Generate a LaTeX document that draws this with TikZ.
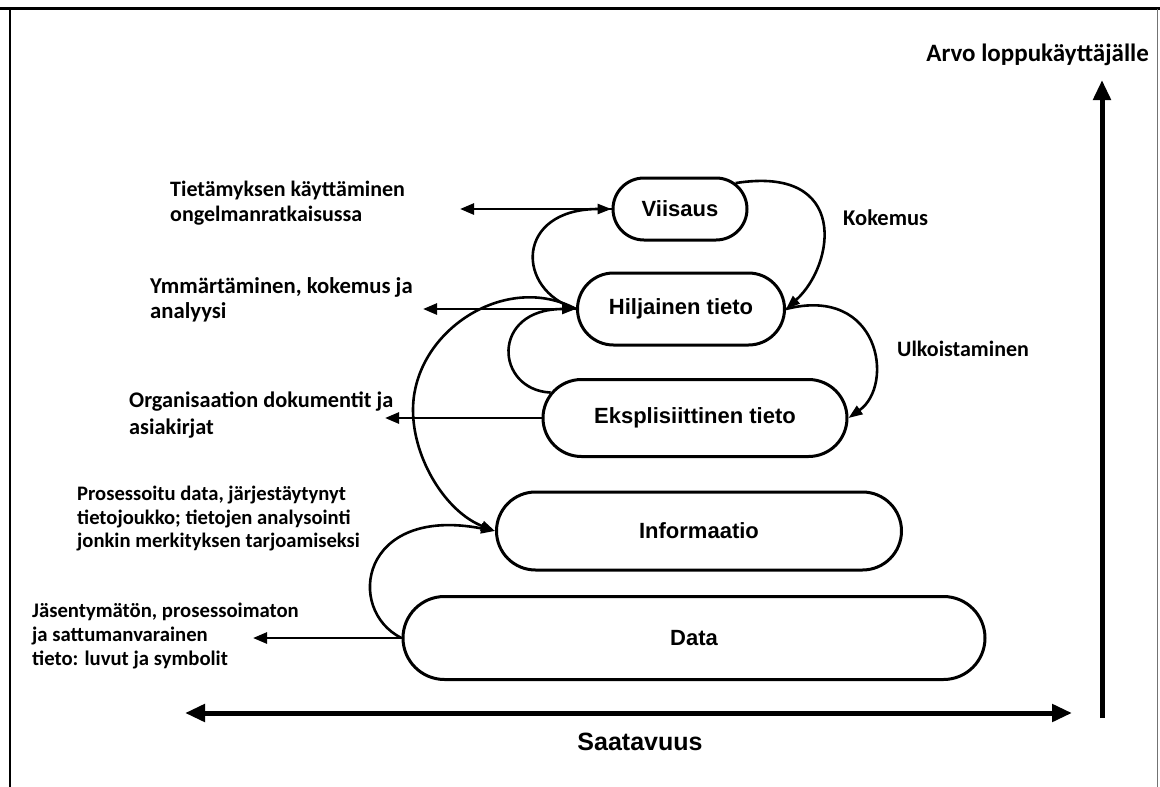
\documentclass[tikz,border=0pt]{standalone}
\usepackage{fontspec}
\setmainfont{Liberation Sans}
\newfontfamily\calib{Carlito}
\usetikzlibrary{arrows.meta,shapes.misc}
\begin{document}
\begin{tikzpicture}[x=1pt,y=-1pt,
  box/.style={rounded rectangle, draw, line width=3pt, inner sep=0pt, font=\bfseries\fontsize{22}{26}\selectfont},
  conn/.style={line width=2.6pt, -{Triangle[length=14pt,width=10pt]}},
  hline/.style={line width=2.6pt, -{Triangle[length=14pt,width=11pt]}},
  lbl/.style={align=left, anchor=west, inner sep=0pt},
  axis/.style={line width=5pt},
  axboth/.style={{Triangle[length=20pt,width=17pt]}-{Triangle[length=20pt,width=17pt]}},
  axup/.style={-{Triangle[length=20pt,width=17pt]}}
]
\useasboundingbox (0,0) rectangle (1160,787);
% frame
\draw[line width=3.5pt] (0,8.5) -- (1160,8.5);
\draw[line width=2.5pt] (10,8.5) -- (10,787);
\draw[line width=1pt, black!55] (1157.5,8.5) -- (1157.5,787);

% boxes
\node[box, minimum width=134pt, minimum height=62pt] (vii) at (680,209) {Viisaus};
\node[box, minimum width=207pt, minimum height=72pt] (hil) at (681,309) {Hiljainen tieto};
\node[box, minimum width=304pt, minimum height=77pt] (eks) at (695,418) {Eksplisiittinen tieto};
\node[box, minimum width=405pt, minimum height=78pt] (inf) at (699,531) {Informaatio};
\node[box, minimum width=582pt, minimum height=83pt] (dat) at (694,638) {Data};

% free ends of the horizontal connectors
\coordinate (e1) at (460,209);
\coordinate (e2) at (423,309);
\coordinate (e3) at (385,418);
\coordinate (e4) at (253,638);

\draw[hline] (vii.west) -- (e1);
\draw[hline] (hil.west) -- (e2);
\draw[hline] (eks.west) -- (e3);
\draw[hline] (dat.west) -- (e4);

% loops
\draw[conn] (hil.west) .. controls (515,290) and (515,209) .. (vii.west);
\draw[conn] (vii.25) .. controls (850,165) and (835,265) .. (hil.east);
\draw[conn] (hil.east) .. controls (880,285) and (895,385) .. (eks.east);
\draw[conn] (eks.170) .. controls (495,390) and (490,309) .. (hil.west);
\draw[conn] (hil.west) .. controls (506,271) and (413,331) .. (413,410)
                       .. controls (413,459) and (446,512) .. (inf.west);
\draw[conn] (dat.west) .. controls (345,610) and (360,505) .. (inf.west);

% labels
\node[lbl, font=\calib\bfseries\fontsize{22}{25}\selectfont] (l1) at (170,203) {Tietämyksen käyttäminen\\ongelmanratkaisussa};
\node[lbl, font=\calib\bfseries\fontsize{22.7}{25}\selectfont] (l2) at (150,300) {Ymmärtäminen, kokemus ja\\analyysi};
\node[lbl, font=\calib\bfseries\fontsize{22.3}{26.5}\selectfont] (l3) at (129,415) {Organisaation dokumentit ja\\asiakirjat};
\node[lbl, font=\calib\bfseries\fontsize{20.6}{23.5}\selectfont] (l4) at (77,519) {Prosessoitu data, järjestäytynyt\\tietojoukko; tietojen analysointi\\jonkin merkityksen tarjoamiseksi};
\node[lbl, font=\calib\bfseries\fontsize{20.7}{24}\selectfont] (l5) at (32,636) {Jäsentymätön, prosessoimaton\\ja sattumanvarainen\\tieto: luvut ja symbolit};
\node[lbl, font=\calib\bfseries\fontsize{22.5}{25}\selectfont] (kok) at (843,218) {Kokemus};
\node[lbl, font=\calib\bfseries\fontsize{22}{25}\selectfont] (ulk) at (897,349) {Ulkoistaminen};

% axes
\coordinate (hl) at (185,713);
\coordinate (hr) at (1072,713);
\draw[axis, axboth] (hl) -- (hr);
\node[font=\bfseries\fontsize{25}{29}\selectfont] (sat) at (640,742) {Saatavuus};
\coordinate (vb) at (1102,718);
\coordinate (vt) at (1102,80);
\draw[axis, axup] (vb) -- (vt);
\node[font=\calib\bfseries\fontsize{25}{28}\selectfont, anchor=east, inner sep=0pt] (arvo) at (1149,55) {Arvo loppukäyttäjälle};
\end{tikzpicture}
\end{document}
